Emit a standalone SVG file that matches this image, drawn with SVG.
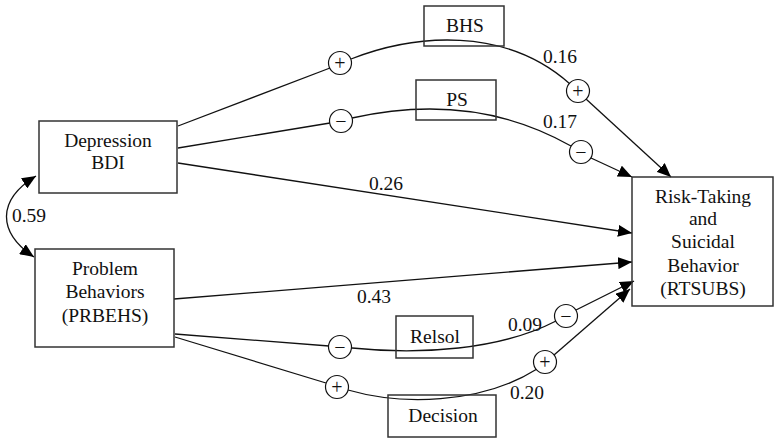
<svg xmlns="http://www.w3.org/2000/svg" width="774" height="439" viewBox="0 0 774 439">
  <style>
    text { fill: #111; text-anchor: middle; }
    .box { fill: none; stroke: #333; stroke-width: 1.5; }
    .edge { fill: none; stroke: #111; stroke-width: 1.3; }
    .arrow { marker-end: url(#head); }
    .sign circle { fill: #fff; stroke: #111; stroke-width: 1.2; }
  </style>
  <defs>
    <marker id="head" viewBox="0 0 14 12" refX="14" refY="6" markerWidth="14" markerHeight="12" markerUnits="userSpaceOnUse" orient="auto-start-reverse">
      <path d="M0,0 L14,6 L0,12 Z" fill="#000"/>
    </marker>
  </defs>

  <rect width="774" height="439" fill="#fff"/>

  <g font-family="Liberation Serif" font-size="19.5">
  <!-- connectors -->
  <g id="connectors">
    <!-- correlation between the two predictors -->
    <path class="edge" d="M36,176 C-3,200 -3,232 34,257" marker-start="url(#head)" marker-end="url(#head)"/>
    <!-- Depression via BHS -->
    <path class="edge" d="M178,126 L330,68"/>
    <path class="edge" d="M351,59 C415,34 505,26 570,84"/>
    <path class="edge arrow" d="M586,99 L671,177"/>
    <!-- Depression via PS -->
    <path class="edge" d="M178,148 L330,123"/>
    <path class="edge" d="M352,118 C410,105 490,100 571,146"/>
    <path class="edge arrow" d="M591,158 L632,177"/>
    <!-- direct paths -->
    <path class="edge arrow" d="M178,163 L632,233"/>
    <path class="edge arrow" d="M174,299 L632,262"/>
    <!-- Problem Behaviors via Relsol -->
    <path class="edge" d="M175,334 L329,346"/>
    <path class="edge" d="M352,348 C420,355 500,350 556,321"/>
    <path class="edge arrow" d="M576,310 L634,281"/>
    <!-- Problem Behaviors via Decision -->
    <path class="edge" d="M175,337 L326,383"/>
    <path class="edge" d="M348,390 C400,405 480,405 537,369"/>
    <path class="edge arrow" d="M554,355 L630,289"/>
  </g>

  <!-- path coefficients -->
  <g id="coefficients">
    <text x="560" y="63">0.16</text>
    <text x="560" y="128">0.17</text>
    <text x="386" y="190">0.26</text>
    <text x="374" y="303">0.43</text>
    <text x="525" y="331">0.09</text>
    <text x="527" y="399">0.20</text>
    <text x="29" y="222">0.59</text>
  </g>

  <!-- sign markers on the mediated paths -->
  <g id="signs" font-size="20">
    <g class="sign"><circle cx="340" cy="63" r="11.5"/><text x="340" y="69.5">+</text></g>
    <g class="sign"><circle cx="341" cy="121" r="11.5"/><text x="341" y="127.5">−</text></g>
    <g class="sign"><circle cx="578" cy="91" r="11.5"/><text x="578" y="97.5">+</text></g>
    <g class="sign"><circle cx="581" cy="152" r="11.5"/><text x="581" y="158.5">−</text></g>
    <g class="sign"><circle cx="340" cy="347" r="11.5"/><text x="340" y="353.5">−</text></g>
    <g class="sign"><circle cx="566" cy="316" r="11.5"/><text x="566" y="322.5">−</text></g>
    <g class="sign"><circle cx="337" cy="387" r="11.5"/><text x="337" y="393.5">+</text></g>
    <g class="sign"><circle cx="545" cy="362" r="11.5"/><text x="545" y="368.5">+</text></g>
  </g>

  <!-- nodes -->
  <g id="depression">
    <rect class="box" x="39" y="121" width="138" height="72"/>
    <text x="108" y="147">Depression</text>
    <text x="108" y="169">BDI</text>
  </g>
  <g id="problem-behaviors">
    <rect class="box" x="35" y="249" width="139" height="98"/>
    <text x="105" y="275">Problem</text>
    <text x="105" y="298">Behaviors</text>
    <text x="105" y="322">(PRBEHS)</text>
  </g>
  <g id="risk-taking">
    <rect class="box" x="632" y="177" width="141" height="129"/>
    <text x="703" y="203">Risk-Taking</text>
    <text x="703" y="225">and</text>
    <text x="703" y="248">Suicidal</text>
    <text x="703" y="272">Behavior</text>
    <text x="703" y="295">(RTSUBS)</text>
  </g>
  <g id="bhs">
    <rect class="box" x="424" y="6" width="80" height="40"/>
    <text x="465" y="32">BHS</text>
  </g>
  <g id="ps">
    <rect class="box" x="416" y="80" width="80" height="40"/>
    <text x="457" y="106">PS</text>
  </g>
  <g id="relsol">
    <rect class="box" x="396" y="316" width="77" height="42"/>
    <text x="435" y="343">Relsol</text>
  </g>
  <g id="decision">
    <rect class="box" x="388" y="395" width="108" height="42"/>
    <text x="443" y="422">Decision</text>
  </g>
  </g>
</svg>
